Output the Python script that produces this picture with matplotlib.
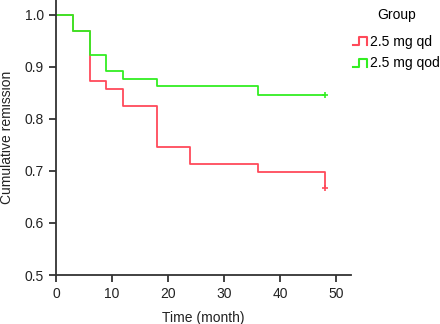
import matplotlib
matplotlib.use('Agg')
import matplotlib.pyplot as plt
from matplotlib.lines import Line2D
from matplotlib.legend_handler import HandlerBase

plt.rcParams['font.family'] = ['Liberation Sans', 'DejaVu Sans']

# Kaplan-Meier steps (time in months, cumulative remission)
qd_t = [0, 3, 6, 9, 12, 18, 24, 36, 48]
qd_s = [1.0, 0.968, 0.873, 0.857, 0.825, 0.746, 0.714, 0.698, 0.667]
qod_t = [0, 3, 6, 9, 12, 18, 36, 48]
qod_s = [1.0, 0.969, 0.923, 0.892, 0.877, 0.862, 0.846, 0.846]
censor_t = 48

red = '#ff4a5a'
green = '#33ee22'


class StepHandler(HandlerBase):
    def create_artists(self, legend, orig, xd, yd, w, h, fontsize, trans):
        xs = [xd, xd + w * 0.45, xd + w * 0.45, xd + w, xd + w]
        ys = [yd + h * 0.05, yd + h * 0.05, yd + h * 0.85, yd + h * 0.85, yd + h * 0.05]
        ln = Line2D(xs, ys, color=orig.get_color(), lw=1.5, transform=trans)
        return [ln]


fig = plt.figure(figsize=(4.4, 3.24), dpi=100)
ax = fig.add_axes([0.127, 0.151, 0.67, 0.849])

l1, = ax.step(qd_t, qd_s, where='post', color=red, lw=1.3)
l2, = ax.step(qod_t, qod_s, where='post', color=green, lw=1.3)
ax.plot([censor_t], [qd_s[-1]], '+', color=red, ms=5, mew=1.2)
ax.plot([censor_t], [qod_s[-1]], '+', color=green, ms=5, mew=1.2)

ax.set_xlim(0, 52.6)
ax.set_ylim(0.5, 1.028)
ax.set_xticks([0, 10, 20, 30, 40, 50])
ax.set_yticks([0.5, 0.6, 0.7, 0.8, 0.9, 1.0])
ax.set_yticklabels(['0.5', '0.6', '0.7', '0.8', '0.9', '1.0'])
for s in ['top', 'right']:
    ax.spines[s].set_visible(False)
for s in ['left', 'bottom']:
    ax.spines[s].set_color('#333333')
    ax.spines[s].set_linewidth(1.3)
ax.tick_params(colors='#333333', width=1.3, length=5, labelsize=10, labelcolor='#222222')
ax.set_xlabel('Time (month)', fontsize=10, color='#222222', labelpad=7)
ax.set_ylabel('Cumulative remission', fontsize=10, color='#222222', labelpad=8)

leg = fig.legend([l1, l2], ['2.5 mg qd', '2.5 mg qod'], title='Group',
                 handler_map={Line2D: StepHandler()},
                 loc='upper left', bbox_to_anchor=(0.78, 1.005), frameon=False,
                 fontsize=10, title_fontsize=10, handlelength=1.0, handletextpad=0.2,
                 labelspacing=0.55, borderaxespad=0.3)
leg._legend_box.sep = 9

fig.savefig('out.png', dpi=100)
